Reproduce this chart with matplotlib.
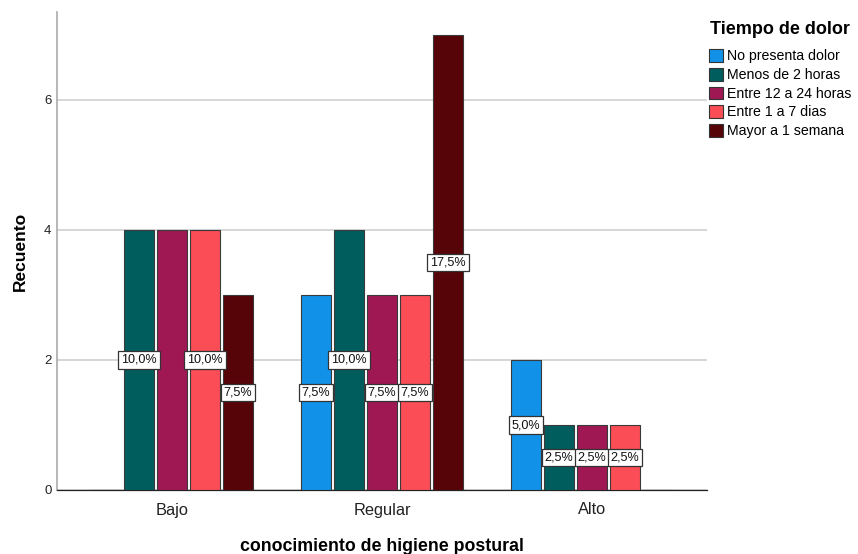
import matplotlib
matplotlib.use("Agg")
import matplotlib.pyplot as plt
import numpy as np
from matplotlib.patches import Patch

plt.rcParams['font.family'] = ['Liberation Sans', 'DejaVu Sans']

categories = ["Bajo", "Regular", "Alto"]
series_names = ["No presenta dolor", "Menos de 2 horas", "Entre 12 a 24 horas",
                "Entre 1 a 7 dias", "Mayor a 1 semana"]
counts = [
    [0, 3, 2],
    [4, 4, 1],
    [4, 3, 1],
    [4, 3, 1],
    [3, 7, 0],
]
pct_labels = [
    ["", "7,5%", "5,0%"],
    ["10,0%", "10,0%", "2,5%"],
    ["", "7,5%", "2,5%"],
    ["10,0%", "7,5%", "2,5%"],
    ["7,5%", "17,5%", ""],
]
colors = ["#1192e8", "#005d5d", "#9f1853", "#fa4d56", "#570408"]
yticks = [0, 2, 4, 6]

fig = plt.figure(figsize=(8.58, 5.54), dpi=100)
ax = fig.add_axes([57/858, 64/554, 650/858, 478/554])

x = np.arange(len(categories))
step = 33/210
width = 30/210
n = len(series_names)
for i, (name, vals, labs, c) in enumerate(zip(series_names, counts, pct_labels, colors)):
    pos = x + (i - (n - 1) / 2) * step
    ax.bar(pos, vals, width=width, color=c, edgecolor="#3a3a3a", linewidth=0.8, zorder=3)
    for p, v, lab in zip(pos, vals, labs):
        if v > 0 and lab:
            ax.text(p, v / 2, lab, ha="center", va="center", fontsize=9.1, color="#111111", zorder=5,
                    bbox=dict(boxstyle="square,pad=0.22", facecolor="white", edgecolor="#333333", linewidth=0.9))

ax.set_xlim(-0.548, 2.548)
ax.set_ylim(0, 478/65)
ax.set_yticks(yticks)
ax.set_yticklabels([str(t) for t in yticks], fontsize=9.5, color="#222222")
ax.set_xticks(x)
ax.set_xticklabels(categories, fontsize=11.8, color="#222222")
ax.tick_params(axis="x", length=0, pad=9)
ax.tick_params(axis="y", length=0, pad=4)
ax.grid(axis="y", color="#d0d0d0", linewidth=1.2, zorder=0)
ax.set_axisbelow(True)
for s in ["top", "right"]:
    ax.spines[s].set_visible(False)
ax.spines["left"].set_color("#aaaaaa")
ax.spines["left"].set_linewidth(1.2)
ax.spines["bottom"].set_color("#222222")
ax.spines["bottom"].set_linewidth(0.9)

ax.set_ylabel("Recuento", fontsize=12.5, fontweight="bold", labelpad=12)
ax.set_xlabel("conocimiento de higiene postural", fontsize=12.8, fontweight="bold", labelpad=15)

handles = [Patch(facecolor=c, edgecolor="#333333", linewidth=0.8, label=nm) for c, nm in zip(colors, series_names)]
leg = fig.legend(handles=handles, title="Tiempo de dolor", loc="upper left",
                 bbox_to_anchor=(709/858, 1 - 21/554), frameon=False, fontsize=10.2,
                 title_fontproperties={"weight": "bold", "size": 13},
                 handlelength=1.0, handleheight=1.0, handletextpad=0.25, labelspacing=0.32,
                 borderaxespad=0, borderpad=0)
leg._legend_box.align = "center"
leg._legend_box.sep = 8

fig.savefig("out.png", dpi=100)
